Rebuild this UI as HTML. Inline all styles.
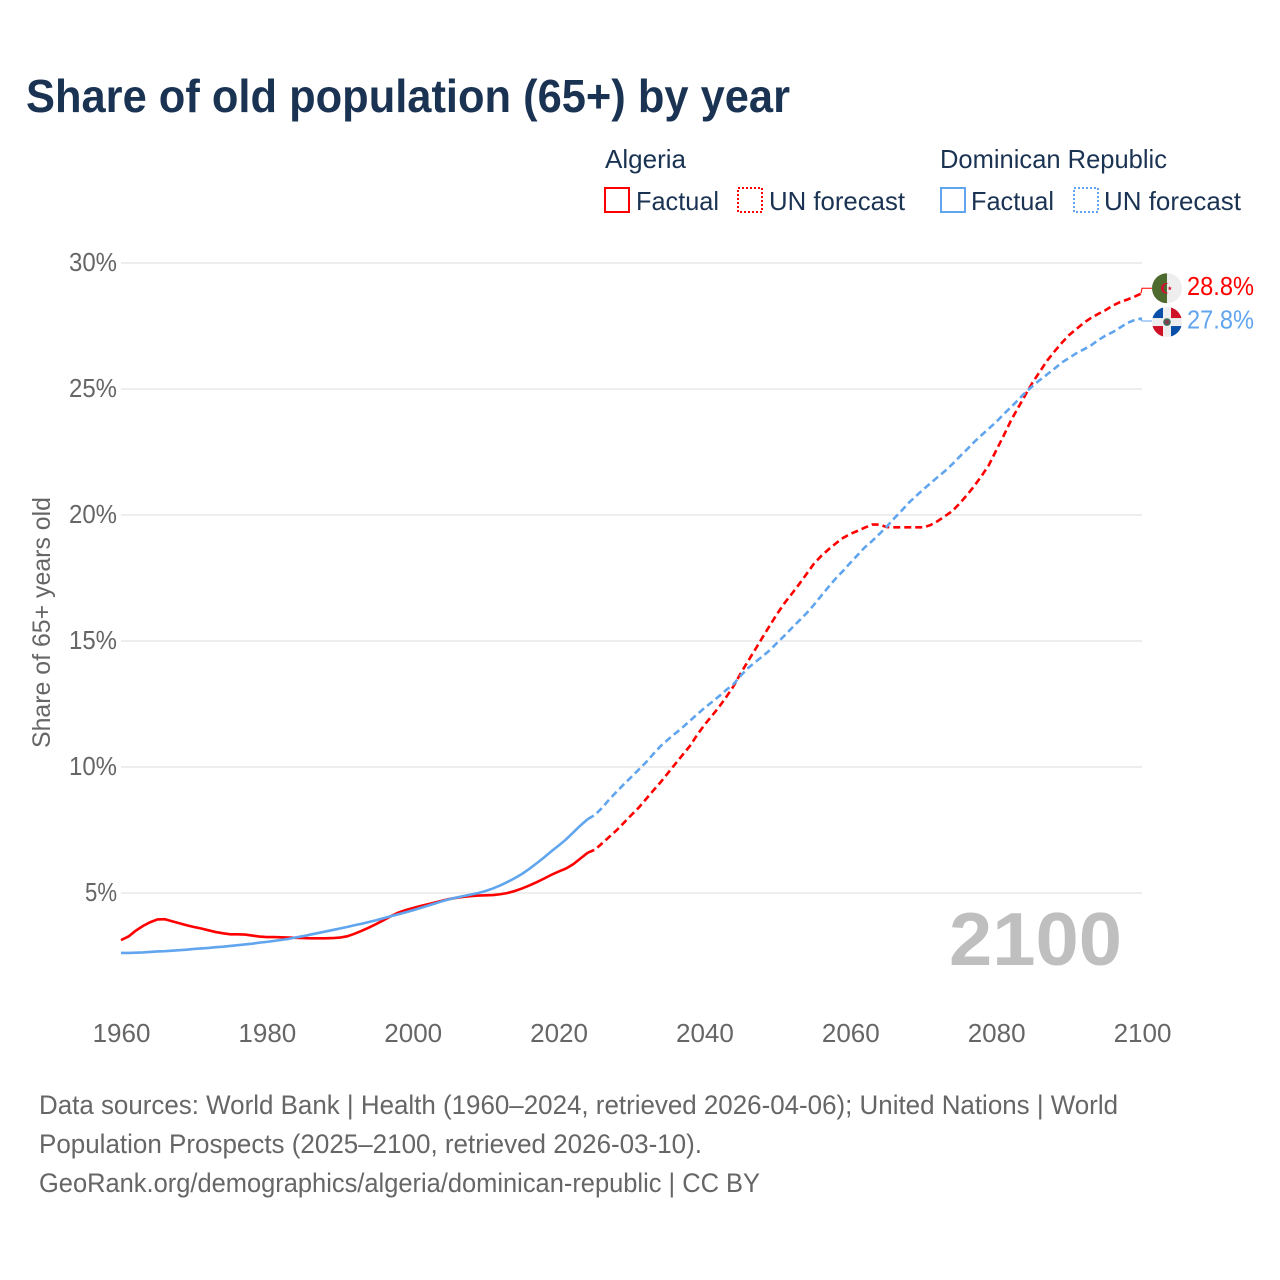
<!DOCTYPE html>
<html lang="en">
<head>
<meta charset="utf-8">
<title>Share of old population (65+) by year</title>
<style>
html,body{margin:0;padding:0;background:#fff;width:1280px;height:1280px;overflow:hidden}
svg{display:block}
text{font-family:"Liberation Sans",sans-serif}
</style>
</head>
<body>
<svg id="chart" xmlns="http://www.w3.org/2000/svg" width="1280" height="1280" viewBox="0 0 1280 1280">
  <text x="26" y="112" font-size="46" font-weight="700" fill="#1a3353" textLength="764" lengthAdjust="spacingAndGlyphs">Share of old population (65+) by year</text>

  <g font-size="26" fill="#1a3353">
    <text x="605" y="168" textLength="81" lengthAdjust="spacingAndGlyphs">Algeria</text>
    <rect x="605" y="188" width="24" height="24" fill="none" stroke="#ff0000" stroke-width="2"/>
    <text x="636" y="210" textLength="83" lengthAdjust="spacingAndGlyphs">Factual</text>
    <rect x="738" y="188" width="24" height="24" fill="none" stroke="#ff0000" stroke-width="2" stroke-dasharray="2 2"/>
    <text x="769" y="210" textLength="136" lengthAdjust="spacingAndGlyphs">UN forecast</text>
    <text x="940" y="168" textLength="227" lengthAdjust="spacingAndGlyphs">Dominican Republic</text>
    <rect x="941" y="188" width="24" height="24" fill="none" stroke="#60a5ee" stroke-width="2"/>
    <text x="971" y="210" textLength="83" lengthAdjust="spacingAndGlyphs">Factual</text>
    <rect x="1074" y="188" width="24" height="24" fill="none" stroke="#60a5ee" stroke-width="2" stroke-dasharray="2 2"/>
    <text x="1104" y="210" textLength="137" lengthAdjust="spacingAndGlyphs">UN forecast</text>
  </g>

  <g id="grid"></g>
  <g id="yticks"></g>
  <g id="xticks"></g>
  <text transform="translate(50,748) rotate(-90)" font-size="25" fill="#666666" textLength="251" lengthAdjust="spacingAndGlyphs">Share of 65+ years old</text>

  <text x="949" y="965" font-size="75" font-weight="700" fill="#bfbfbf" textLength="173" lengthAdjust="spacingAndGlyphs">2100</text>

  <g id="series"></g>

  <g id="flag-algeria">
    <clipPath id="clip-a"><circle cx="0" cy="0" r="15"/></clipPath>
    <g clip-path="url(#clip-a)">
      <rect x="-15" y="-15" width="15" height="30" fill="#4e6b2f"/>
      <rect x="0" y="-15" width="15" height="30" fill="#eeeeee"/>
      <path d="M1.5 -4.8A5.3 5.3 0 1 0 1.5 4.8A4.2 4.2 0 1 1 1.5 -4.8Z" fill="#d21034"/>
      <polygon points="2.8,-2.2 3.4,-0.6 5,-0.6 3.7,0.4 4.2,2 2.8,1 1.4,2 1.9,0.4 0.6,-0.6 2.2,-0.6" fill="#d21034"/>
    </g>
  </g>
  <g id="flag-dominican">
    <clipPath id="clip-d"><circle cx="0" cy="0" r="15"/></clipPath>
    <g clip-path="url(#clip-d)">
      <rect x="-15" y="-15" width="30" height="30" fill="#eeeeee"/>
      <rect x="-15" y="-15" width="11" height="11" fill="#0b50a8"/>
      <rect x="4" y="-15" width="11" height="11" fill="#ce1126"/>
      <rect x="-15" y="4" width="11" height="11" fill="#ce1126"/>
      <rect x="4" y="4" width="11" height="11" fill="#0b50a8"/>
      <circle cx="0" cy="0" r="3.8" fill="#3f6b5a"/>
      <circle cx="0" cy="0" r="2" fill="#8a3b4a"/>
    </g>
  </g>
  <text id="label-algeria" x="1187" font-size="26" fill="#ff0000" textLength="67" lengthAdjust="spacingAndGlyphs"></text>
  <text id="label-dominican" x="1187" font-size="26" fill="#60a5ee" textLength="67" lengthAdjust="spacingAndGlyphs"></text>

  <g font-size="27" fill="#666666">
    <text x="39" y="1114" textLength="1079" lengthAdjust="spacingAndGlyphs">Data sources: World Bank | Health (1960–2024, retrieved 2026-04-06); United Nations | World</text>
    <text x="39" y="1153" textLength="663" lengthAdjust="spacingAndGlyphs">Population Prospects (2025–2100, retrieved 2026-03-10).</text>
    <text x="39" y="1192" textLength="721" lengthAdjust="spacingAndGlyphs">GeoRank.org/demographics/algeria/dominican-republic | CC BY</text>
  </g>
</svg>

<script>
const factualStartYear = 1960;
const forecastStartYear = 2024;
const yTickValues = [5, 10, 15, 20, 25, 30];
const xTickValues = [1960, 1980, 2000, 2020, 2040, 2060, 2080, 2100];

const algeriaFactual = [3.13,3.27,3.5,3.69,3.84,3.95,3.96,3.88,3.8,3.72,3.65,3.59,3.52,3.45,3.4,3.36,3.36,3.35,3.31,3.27,3.25,3.25,3.24,3.23,3.22,3.21,3.2,3.2,3.2,3.21,3.23,3.28,3.38,3.5,3.63,3.77,3.92,4.08,4.22,4.32,4.4,4.48,4.55,4.62,4.69,4.76,4.81,4.85,4.88,4.9,4.91,4.92,4.95,5.0,5.08,5.18,5.3,5.43,5.57,5.72,5.85,5.97,6.14,6.37,6.6];
const algeriaForecast = [6.6,6.72,6.98,7.24,7.5,7.8,8.1,8.39,8.73,9.07,9.4,9.76,10.12,10.48,10.83,11.27,11.67,12.02,12.38,12.78,13.21,13.73,14.21,14.68,15.16,15.63,16.09,16.51,16.88,17.26,17.66,18.06,18.37,18.63,18.87,19.09,19.25,19.37,19.5,19.62,19.62,19.52,19.51,19.51,19.51,19.51,19.51,19.6,19.76,19.96,20.16,20.46,20.79,21.15,21.55,21.98,22.56,23.13,23.73,24.25,24.76,25.26,25.69,26.13,26.49,26.83,27.14,27.38,27.62,27.82,27.98,28.13,28.31,28.45,28.55,28.67,28.8];
const dominicanFactual = [2.62,2.62,2.63,2.64,2.66,2.68,2.69,2.71,2.73,2.75,2.78,2.8,2.82,2.85,2.87,2.9,2.93,2.96,2.99,3.03,3.06,3.1,3.14,3.18,3.24,3.29,3.35,3.41,3.47,3.53,3.59,3.65,3.72,3.78,3.85,3.92,4.0,4.08,4.15,4.23,4.31,4.4,4.49,4.58,4.67,4.75,4.82,4.88,4.94,5.0,5.08,5.18,5.3,5.44,5.59,5.76,5.96,6.18,6.41,6.65,6.88,7.12,7.4,7.68,7.93];
const dominicanForecast = [7.93,8.1,8.39,8.73,9.03,9.33,9.61,9.9,10.19,10.52,10.83,11.09,11.33,11.57,11.83,12.09,12.34,12.57,12.81,13.06,13.29,13.63,13.93,14.17,14.4,14.64,14.94,15.22,15.52,15.81,16.1,16.43,16.79,17.14,17.48,17.78,18.1,18.41,18.72,18.97,19.25,19.54,19.86,20.16,20.48,20.75,21.01,21.26,21.51,21.75,22.02,22.32,22.6,22.9,23.17,23.43,23.69,23.99,24.27,24.56,24.86,25.12,25.36,25.58,25.81,26.05,26.23,26.42,26.57,26.73,26.94,27.12,27.26,27.44,27.62,27.74,27.8];

const RED = '#ff0000';
const BLUE = '#60a5ee';
const SVGNS = 'http://www.w3.org/2000/svg';

function xScale(year) { return 121 + (year - 1960) * (1142 - 121) / 140; }
function yScale(pct) { return 893 + (pct - 5) * (263 - 893) / 25; }

function make(tag, attrs, parent) {
  const el = document.createElementNS(SVGNS, tag);
  for (const k in attrs) el.setAttribute(k, attrs[k]);
  parent.appendChild(el);
  return el;
}

function pathFor(values, startYear) {
  return values.map(function (v, i) {
    return (i ? 'L' : 'M') + xScale(startYear + i).toFixed(2) + ' ' + yScale(v).toFixed(2);
  }).join('');
}

const gridGroup = document.getElementById('grid');
const yGroup = document.getElementById('yticks');
yTickValues.forEach(function (v) {
  const line = make('line', { x1: 121, x2: 1142, y1: yScale(v), y2: yScale(v), stroke: '#e8e8e8', 'stroke-width': 1.5 }, gridGroup);
  
  
  const label = v + '%';
  const t = make('text', { x: 117, y: yScale(v) + 8, 'text-anchor': 'end', 'font-size': 26, fill: '#666666', textLength: label.length * 16, lengthAdjust: 'spacingAndGlyphs' }, yGroup);
  
  
  t.textContent = label;
});

const xGroup = document.getElementById('xticks');
xTickValues.forEach(function (year) {
  const t = make('text', { x: xScale(year) + 0.5, y: 1042, 'text-anchor': 'middle', 'font-size': 26, fill: '#666666' }, xGroup);
  
  
  t.textContent = String(year);
});

const seriesGroup = document.getElementById('series');

const algeriaForecastLine = make('path', { d: pathFor(algeriaForecast, forecastStartYear), fill: 'none', stroke: RED, 'stroke-width': 2.6, 'stroke-dasharray': '7 4' }, seriesGroup);



const dominicanForecastLine = make('path', { d: pathFor(dominicanForecast, forecastStartYear), fill: 'none', stroke: BLUE, 'stroke-width': 2.6, 'stroke-dasharray': '7 4' }, seriesGroup);



const algeriaFactualLine = make('path', { d: pathFor(algeriaFactual, factualStartYear), fill: 'none', stroke: RED, 'stroke-width': 2.6 }, seriesGroup);



const dominicanFactualLine = make('path', { d: pathFor(dominicanFactual, factualStartYear), fill: 'none', stroke: BLUE, 'stroke-width': 2.6 }, seriesGroup);



const lastA = algeriaForecast[algeriaForecast.length - 1];
const lastD = dominicanForecast[dominicanForecast.length - 1];
const endX = xScale(2100);
const yA = yScale(lastA);
const yD = yScale(lastD);

const leaderA = make('path', { d: 'M' + (endX - 1) + ' ' + yA + 'L' + endX + ' ' + (yA - 5) + 'L' + (endX + 10) + ' ' + (yA - 5), fill: 'none', stroke: RED, 'stroke-width': 1 }, seriesGroup);



const leaderD = make('path', { d: 'M' + (endX - 2) + ' ' + yD + 'L' + endX + ' ' + (yD + 2.6) + 'L' + (endX + 10) + ' ' + (yD + 2.6), fill: 'none', stroke: BLUE, 'stroke-width': 1 }, seriesGroup);



document.getElementById('flag-algeria').setAttribute('transform', 'translate(1167,' + (yA - 5) + ')');
document.getElementById('flag-dominican').setAttribute('transform', 'translate(1167,' + (yD + 3.6) + ')');

const labelA = document.getElementById('label-algeria');
labelA.setAttribute('y', yA + 2);
labelA.textContent = lastA.toFixed(1) + '%';
const labelD = document.getElementById('label-dominican');
labelD.setAttribute('y', yD + 10);
labelD.textContent = lastD.toFixed(1) + '%';
</script>
</body>
</html>
